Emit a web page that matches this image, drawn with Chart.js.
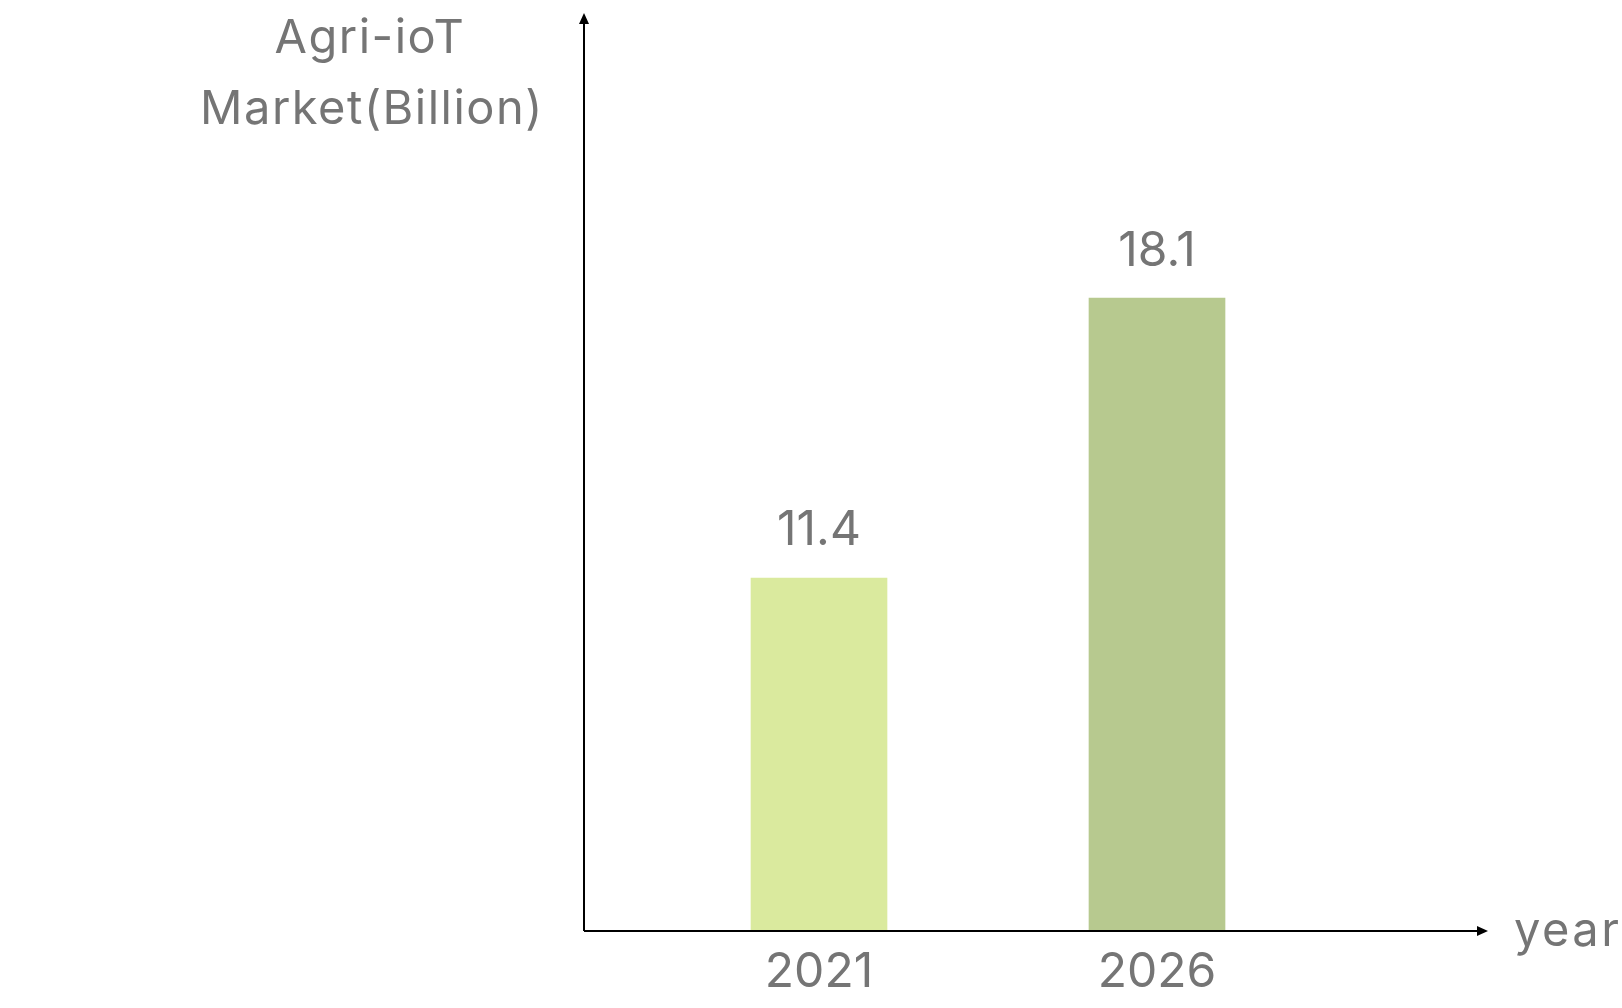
<!DOCTYPE html>
<html>
<head>
<meta charset="utf-8">
<title>Agri-ioT Market</title>
<script src="https://cdn.jsdelivr.net/npm/chart.js@4.4.1/dist/chart.umd.min.js"></script>
<style>
    html, body { margin: 0; padding: 0; background: #ffffff; }
    canvas { display: block; }
</style>
</head>
<body>
<canvas id="myChart" width="1622" height="1008"></canvas>
<script>
// data
const years = ['2021', '2026'];
const market = [11.4, 18.1];
const barColors = ['#daea9e', '#b7c98f'];
const titleLines = ['Agri-ioT', 'Market(Billion)'];
const xTitle = 'year';

const FONT = 'Inter, "Noto Sans", sans-serif';
const GREY = '#757575';

// axes with arrow heads + titles
const axisArrows = {
    id: 'axisArrows',
    afterDraw(chart) {
        const ctx = chart.ctx;
        const base = chart.chartArea.bottom;
        const ox = 584;
        ctx.save();
        ctx.strokeStyle = '#000';
        ctx.fillStyle = '#000';
        ctx.lineWidth = 2;
        ctx.beginPath();
        ctx.moveTo(ox, base);
        ctx.lineTo(ox, 20);
        ctx.moveTo(ox, base);
        ctx.lineTo(1480, base);
        ctx.stroke();
        // arrow heads
        ctx.beginPath();
        ctx.moveTo(ox, 13);
        ctx.lineTo(ox - 5, 24);
        ctx.lineTo(ox + 5, 24);
        ctx.closePath();
        ctx.fill();
        ctx.beginPath();
        ctx.moveTo(1488, base);
        ctx.lineTo(1477, base - 5);
        ctx.lineTo(1477, base + 5);
        ctx.closePath();
        ctx.fill();

        ctx.fillStyle = GREY;
        ctx.font = '47px ' + FONT;
        ctx.letterSpacing = '1.5px';
        ctx.textAlign = 'center';
        ctx.textBaseline = 'middle';
        ctx.fillText(titleLines[0], 370, 39);
        ctx.fillText(titleLines[1], 372, 110);
        ctx.textAlign = 'left';
        ctx.letterSpacing = '2.5px';
        ctx.fillText(xTitle, 1514, 932);
        ctx.restore();
    }
};

// value labels above bars
const valueLabels = {
    id: 'valueLabels',
    afterDatasetsDraw(chart) {
        const ctx = chart.ctx;
        const meta = chart.getDatasetMeta(0);
        ctx.save();
        ctx.fillStyle = GREY;
        ctx.font = '48px ' + FONT;
        ctx.textAlign = 'center';
        ctx.textBaseline = 'middle';
        meta.data.forEach((bar, i) => {
            ctx.fillText(market[i].toFixed(1), bar.x, bar.y - 47);
        });
        ctx.restore();
    }
};

let ctx = document.getElementById('myChart').getContext('2d');
let myChart = new Chart(ctx, {
    type: 'bar',
    data: {
        labels: years,
        datasets: [{
            data: market,
            backgroundColor: barColors,
            borderWidth: 0,
            barThickness: 136
        }]
    },
    options: {
        responsive: false,
        animation: false,
        layout: { padding: { left: 650, right: 296, top: 10, bottom: 0 } },
        plugins: {
            legend: { display: false },
            tooltip: { enabled: false }
        },
        scales: {
            x: {
                grid: { display: false, drawTicks: false },
                border: { display: false },
                ticks: {
                    color: GREY,
                    padding: 13,
                    font: { family: FONT, size: 48 }
                },
                afterFit(scale) { scale.height = 77; }
            },
            y: {
                display: false,
                min: 2.95,
                max: 25
            }
        }
    },
    plugins: [axisArrows, valueLabels]
});
</script>
</body>
</html>
